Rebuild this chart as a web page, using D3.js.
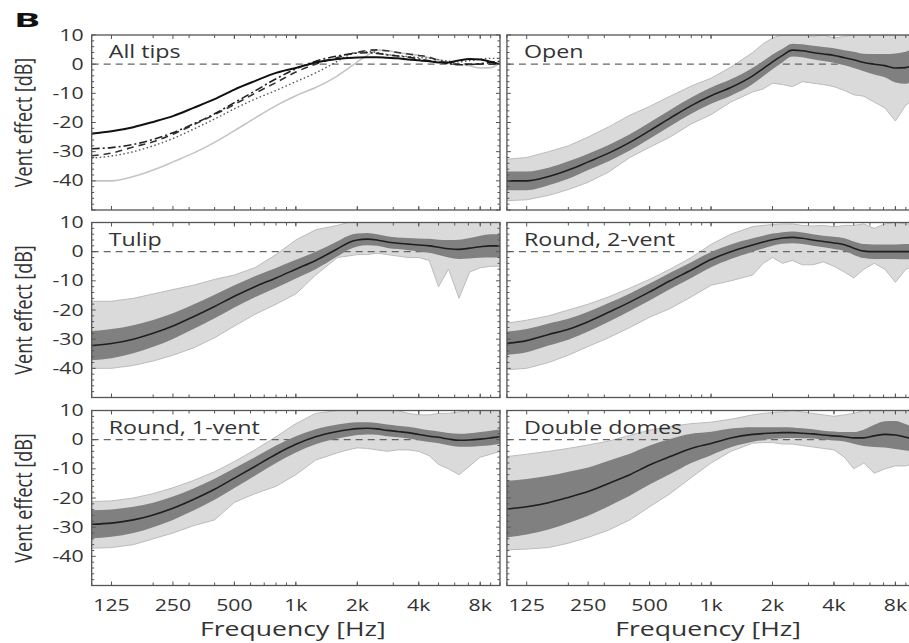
<!DOCTYPE html>
<html>
<head>
<meta charset="utf-8">
<script src="https://cdn.jsdelivr.net/npm/d3@7"></script>
<style>
  body { margin: 0; background: #fff; }
  svg { display: block; overflow: hidden; }
  text { font-family: "Open Sans", "Noto Sans", sans-serif; fill: #333; }
</style>
</head>
<body>
<svg width="909" height="643"></svg>
<script>
// frequency grid (Hz) shared by every curve
var freqs = [100,125,160,200,250,315,400,500,630,800,1000,1250,1600,1800,2000,2240,2500,2800,3150,3550,4000,4500,5000,5600,6300,7100,8000,9000,10000];

var tickFreqs  = [125,250,500,1000,2000,4000,8000];
var tickLabels = ['125','250','500','1k','2k','4k','8k'];
var dbTicks    = [10,0,-10,-20,-30,-40];

// mean, sd, max and min of the single ears, per tip (dB)
var openMean = [-40,-40,-38.5,-36.3,-33.5,-30.5,-26.8,-22.8,-18.5,-14.2,-10.8,-8,-4,-1.5,0.8,3,4.8,4.6,4,3.5,3,2.2,1.5,0.6,0,-0.5,-1.3,-1.2,0.5];
var openSd   = [3.2,3.2,3,3,2.8,2.8,2.8,2.8,2.8,2.8,2.8,2.8,2.8,2.6,2.5,2.3,2.2,2.2,2.3,2.4,2.5,2.6,2.8,3,3.5,4,5,5.5,5];
var openHi   = [-32.6,-32,-30,-28,-25,-21.5,-17.5,-14.5,-11,-7.5,-4.8,-1,4,7,9,10,10,10,9.5,10,9,9.5,10,10,10,10,10,10,10];
var openLo   = [-46.8,-46.5,-45,-43,-40.5,-37,-32,-28.5,-25,-20.5,-17.3,-13,-9.5,-8.5,-6.5,-7,-7.7,-6,-6.5,-7,-7.7,-9,-10.5,-11,-13,-15,-19.5,-14,-12];

var tulipMean = [-32.2,-31.5,-30,-28,-25.5,-22.3,-18.8,-15.3,-12,-9,-6,-3,1,3,4,4.3,4,3.3,2.9,2.6,2.3,2,1.5,1,0.8,1.2,1.7,2,2];
var tulipSd   = [5,5,4.8,4.6,4.4,4.2,4,3.8,3.6,3.4,3.2,3,2.6,2.4,2.2,2.1,2,2,2,2.1,2.2,2.4,2.6,3,3.3,3.5,3.8,4,4];
var tulipHi   = [-17,-17,-16,-14.5,-13,-11.5,-9.5,-8,-5.5,-1,4,7.5,9,10,10,10,10,10,10,10,10,10,10,10,10,10,10,10,10];
var tulipLo   = [-40,-40,-39,-37.5,-35.5,-33,-29.5,-25.5,-21.5,-18,-14.5,-8,-2,-1.5,-1,-1,-0.5,-1,-1.5,-2,-2,-3,-12,-6,-16,-7,-5.5,-5,-5];

var round2Mean = [-31.4,-30.5,-28.4,-26.6,-24,-20.8,-17.3,-13.8,-10,-6.3,-2.7,0,2.3,3.3,4.1,4.7,4.9,4.6,4,3.5,3,2.4,1.2,0.2,0,0,0,0,0];
var round2Sd   = [4,4,3.8,3.6,3.4,3.2,3,2.9,2.8,2.7,2.6,2.5,2.3,2.2,2.1,2,2,2,2,2,2.1,2.2,2.3,2.4,2.5,2.5,2.5,2.6,2.6];
var round2Hi   = [-24.5,-23.5,-22,-20,-18,-15.5,-12.5,-9.5,-6,-2,2.5,6,8.6,9,9.3,9.5,9.5,9,8.8,9,8.5,9,9,9.5,8,9.5,10,9.5,9.5];
var round2Lo   = [-40.5,-40,-38,-35.5,-32.5,-29.5,-26,-22.5,-19.5,-15.5,-11.5,-10,-8,-4,-2,-4,-3,-4.5,-4.5,-3.5,-5,-7,-9,-6,-4,-6,-10.5,-6,-5];

var round1Mean = [-29,-28.6,-27.5,-25.8,-23.5,-20.5,-17,-13.2,-9.2,-5,-1.6,1,2.8,3.4,3.8,3.9,3.7,3.2,2.8,2.4,1.8,1.2,0.8,0.2,-0.2,-0.1,0.2,0.6,1];
var round1Sd   = [4.8,4.7,4.5,4.2,4,3.8,3.6,3.4,3.2,3,2.8,2.6,2.4,2.3,2.2,2.1,2,2,2,2,2,2,2,2.1,2.2,2.3,2.4,2.5,2.5];
var round1Hi   = [-21.2,-21,-20,-18.5,-16.5,-14,-11,-7.5,-3.5,1,5.5,9,10,10,10,10,10,10,10,9,8.5,8.5,9,9,9.5,10,10,10,10];
var round1Lo   = [-37.2,-37,-36,-34,-32,-29.5,-27.5,-21.5,-18.5,-16,-12,-7,-4.5,-3.5,-2.8,-3,-3.5,-4,-3.5,-3.5,-4,-5.5,-8.5,-10,-12,-9,-6,-5,-4];

var domesMean = [-23.8,-23,-21.6,-19.8,-17.8,-15,-12,-8.7,-5.8,-3,-1.3,0.6,1.8,2.1,2.3,2.4,2.4,2.2,2,1.6,1.3,1,0.6,0.6,1.3,1.8,1.6,0.8,0];
var domesSd   = [9.7,9.5,9.2,8.8,8.3,7.8,7.2,6.7,6,5,4,3.2,2.5,2.2,2,1.9,1.8,1.7,1.6,1.5,1.5,1.6,2,2.8,3.8,4.5,4.8,4.5,4];
var domesHi   = [-5.8,-5,-4,-3,-1.8,-0.5,1.5,3.3,4.5,5.5,6,7,8.5,9,9.3,9.5,10,9.5,9,8.5,8,8.5,9,10,10,10,10,10,10];
var domesLo   = [-37.8,-37.5,-37,-35.5,-33.5,-31,-27.5,-23,-18.5,-13,-8,-4,-1.2,-1,-1,-1.5,-1.5,-2,-2.5,-3,-3.5,-6,-10,-8,-11.5,-10,-9,-9,-8];

var SX = 1.33;           // the figure is stretched sideways
var pw = 408.3, ph = 175;
var colX = [91.7, 506.9];
var rowY = [35, 222.5, 410.5];

var panels = [
  {title: 'All tips',      col: 0, row: 0},
  {title: 'Open',          col: 1, row: 0, mean: openMean,   sd: openSd,   hi: openHi,   lo: openLo},
  {title: 'Tulip',         col: 0, row: 1, mean: tulipMean,  sd: tulipSd,  hi: tulipHi,  lo: tulipLo},
  {title: 'Round, 2-vent', col: 1, row: 1, mean: round2Mean, sd: round2Sd, hi: round2Hi, lo: round2Lo},
  {title: 'Round, 1-vent', col: 0, row: 2, mean: round1Mean, sd: round1Sd, hi: round1Hi, lo: round1Lo},
  {title: 'Double domes',  col: 1, row: 2, mean: domesMean,  sd: domesSd,  hi: domesHi,  lo: domesLo}
];

// styles of the tips in the "All tips" panel
var allTips = [
  {mean: openMean,   stroke: '#c4c4c4', width: 1.6, dash: null},
  {mean: tulipMean,  stroke: '#555',    width: 1.4, dash: '1.5,2.5'},
  {mean: round2Mean, stroke: '#333',    width: 1.6, dash: '7,5'},
  {mean: round1Mean, stroke: '#222',    width: 1.6, dash: '8,3,2,3'},
  {mean: domesMean,  stroke: '#111',    width: 2,   dash: null}
];

var svg = d3.select('svg');
var x = d3.scaleLog().domain([100, 10000]).range([0, pw]);
var y = d3.scaleLinear().domain([-50, 10]).range([ph, 0]);

function stext(g, tx, ty, str, size, anchor, weight, sx) {
  return g.append('text')
    .attr('transform', 'translate(' + tx + ',' + ty + ') scale(' + (sx || SX) + ',1)')
    .attr('text-anchor', anchor || 'start')
    .style('font-size', size + 'px')
    .style('font-weight', weight || 'normal')
    .text(str);
}

var line = d3.line()
  .x(function(d, i) { return x(freqs[i]); })
  .y(function(d) { return y(d); })
  .curve(d3.curveMonotoneX);

var minorX = [];
[100, 1000].forEach(function(dec) {
  for (var k = 1; k <= 9; k++) minorX.push(dec * k);
});
minorX.push(10000);
var minorY = d3.range(-50, 11, 2);

panels.forEach(function(p, pi) {
  var g = svg.append('g')
    .attr('transform', 'translate(' + colX[p.col] + ',' + rowY[p.row] + ')');

  g.append('clipPath').attr('id', 'clip' + pi)
    .append('rect').attr('width', pw).attr('height', ph);
  var data = g.append('g').attr('clip-path', 'url(#clip' + pi + ')');

  if (p.mean) {
    // spread of single ears
    var env = d3.area()
      .x(function(d, i) { return x(freqs[i]); })
      .y0(function(d, i) { return y(p.lo[i]); })
      .y1(function(d, i) { return y(p.hi[i]); });
    data.append('path').datum(p.mean).attr('d', env)
      .attr('fill', '#dadada');
    [p.hi, p.lo].forEach(function(arr) {
      data.append('path').datum(arr)
        .attr('d', d3.line().x(function(d, i) { return x(freqs[i]); }).y(function(d) { return y(d); }))
        .attr('fill', 'none').attr('stroke', '#bbb').attr('stroke-width', 1);
    });
  }

  data.append('line')
    .attr('x1', 0).attr('x2', pw)
    .attr('y1', y(0)).attr('y2', y(0))
    .attr('stroke', '#666').attr('stroke-width', 1.2)
    .attr('stroke-dasharray', '7,5');

  if (p.mean) {
    var band = d3.area()
      .x(function(d, i) { return x(freqs[i]); })
      .y0(function(d, i) { return y(p.mean[i] - p.sd[i]); })
      .y1(function(d, i) { return y(p.mean[i] + p.sd[i]); })
      .curve(d3.curveMonotoneX);
    data.append('path').datum(p.mean).attr('d', band)
      .attr('fill', '#808080');
    data.append('path').datum(p.mean).attr('d', line)
      .attr('fill', 'none').attr('stroke', '#1e1e1e').attr('stroke-width', 1.6);
  } else {
    allTips.forEach(function(t) {
      data.append('path').datum(t.mean).attr('d', line)
        .attr('fill', 'none').attr('stroke', t.stroke)
        .attr('stroke-width', t.width)
        .attr('stroke-dasharray', t.dash);
    });
  }

  // frame and inward ticks
  g.append('rect').attr('width', pw).attr('height', ph)
    .attr('fill', 'none').attr('stroke', '#555').attr('stroke-width', 1.3);

  var ticks = g.append('g').attr('stroke', '#555').attr('stroke-width', 1);
  minorX.forEach(function(f) {
    ticks.append('line').attr('x1', x(f)).attr('x2', x(f)).attr('y1', 0).attr('y2', 3);
    ticks.append('line').attr('x1', x(f)).attr('x2', x(f)).attr('y1', ph).attr('y2', ph - 3);
  });
  tickFreqs.forEach(function(f) {
    ticks.append('line').attr('x1', x(f)).attr('x2', x(f)).attr('y1', 0).attr('y2', 4);
    ticks.append('line').attr('x1', x(f)).attr('x2', x(f)).attr('y1', ph).attr('y2', ph - 4);
  });
  minorY.forEach(function(v) {
    var len = (v % 10 === 0) ? 4 : 2.5;
    ticks.append('line').attr('x1', 0).attr('x2', len).attr('y1', y(v)).attr('y2', y(v));
    ticks.append('line').attr('x1', pw).attr('x2', pw - len).attr('y1', y(v)).attr('y2', y(v));
  });

  stext(g, 17, 23, p.title, 17.5);

  if (p.col === 0) {
    dbTicks.forEach(function(v) {
      stext(g, -8, y(v) + 5.5, String(v), 16, 'end');
    });
    g.append('text')
      .attr('transform', 'translate(-60,' + (ph / 2) + ') rotate(-90) scale(1,' + SX + ')')
      .attr('text-anchor', 'middle')
      .style('font-size', '18px')
      .text('Vent effect [dB]');
  }

  if (p.row === 2) {
    tickFreqs.forEach(function(f, i) {
      stext(g, x(f), ph + 25, tickLabels[i], 16, 'middle');
    });
    stext(g, pw / 2 - 3, ph + 50, 'Frequency [Hz]', 20, 'middle');
  }
});

stext(svg, 14, 27, 'B', 20, 'start', 'bold', 1.95).style('fill', '#111');
</script>
</body>
</html>
